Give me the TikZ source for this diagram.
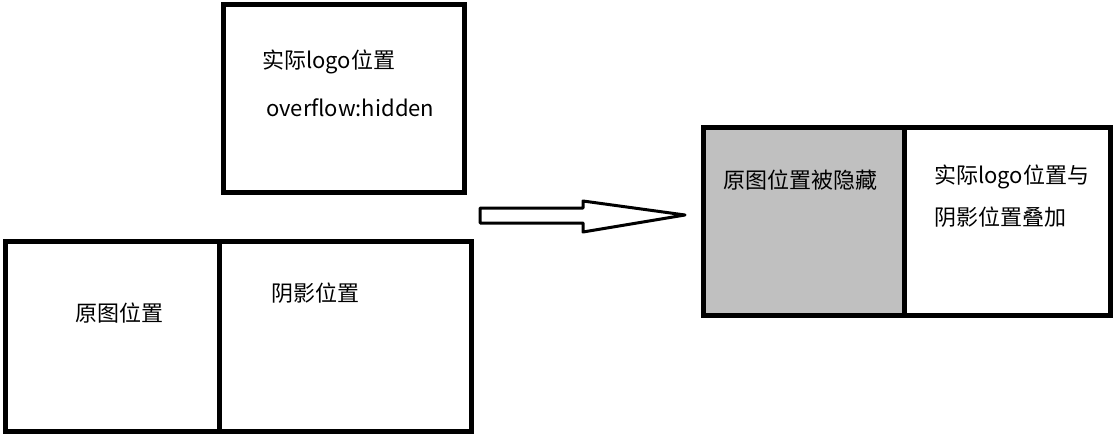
\documentclass[tikz,border=0pt]{standalone}
\usepackage{fontspec}
\setmainfont{Noto Sans CJK SC}
\tikzset{
  box/.style={draw, line width=5pt},
  lbl/.style={anchor=west, inner sep=0pt, font=\fontsize{22}{26}\selectfont},
}
\begin{document}
\begin{tikzpicture}[x=1pt, y=-1pt]
        \useasboundingbox (0,0) rectangle (1119,436);
        % top box
        \draw[box] (223.5,4.5) rectangle (464.5,192.5);
        \node[lbl] (logo) at (262,62) {实际logo位置};
        \node[lbl] (hide) at (266,108) {overflow:hidden};
        % bottom left
        \draw[box] (5,241) rectangle (471,431);
        \draw[line width=5pt] (219.5,241) -- (219.5,431);
        \node[lbl] (orig) at (75,313) {原图位置};
        \node[lbl] (shadow) at (271,293) {阴影位置};
        % arrow
        \draw[line width=3pt, line join=round] (480,208) -- (583,208) -- (583,201) -- (685,215) -- (583,232) -- (583,223) -- (480,223) -- cycle;
        % right box
        \fill[fill={rgb,255:red,192;green,192;blue,192}] (703.5,127.5) rectangle (904,315.5);
        \draw[box] (703.5,127.5) rectangle (1110.5,315.5);
        \draw[line width=5pt] (904,127.5) -- (904,315.5);
        \node[lbl] (hidden) at (723,180) {原图位置被隐藏};
        \node[lbl] (over1) at (934,177) {实际logo位置与};
        \node[lbl] (over2) at (934,217) {阴影位置叠加};
    \end{tikzpicture}
\end{document}
